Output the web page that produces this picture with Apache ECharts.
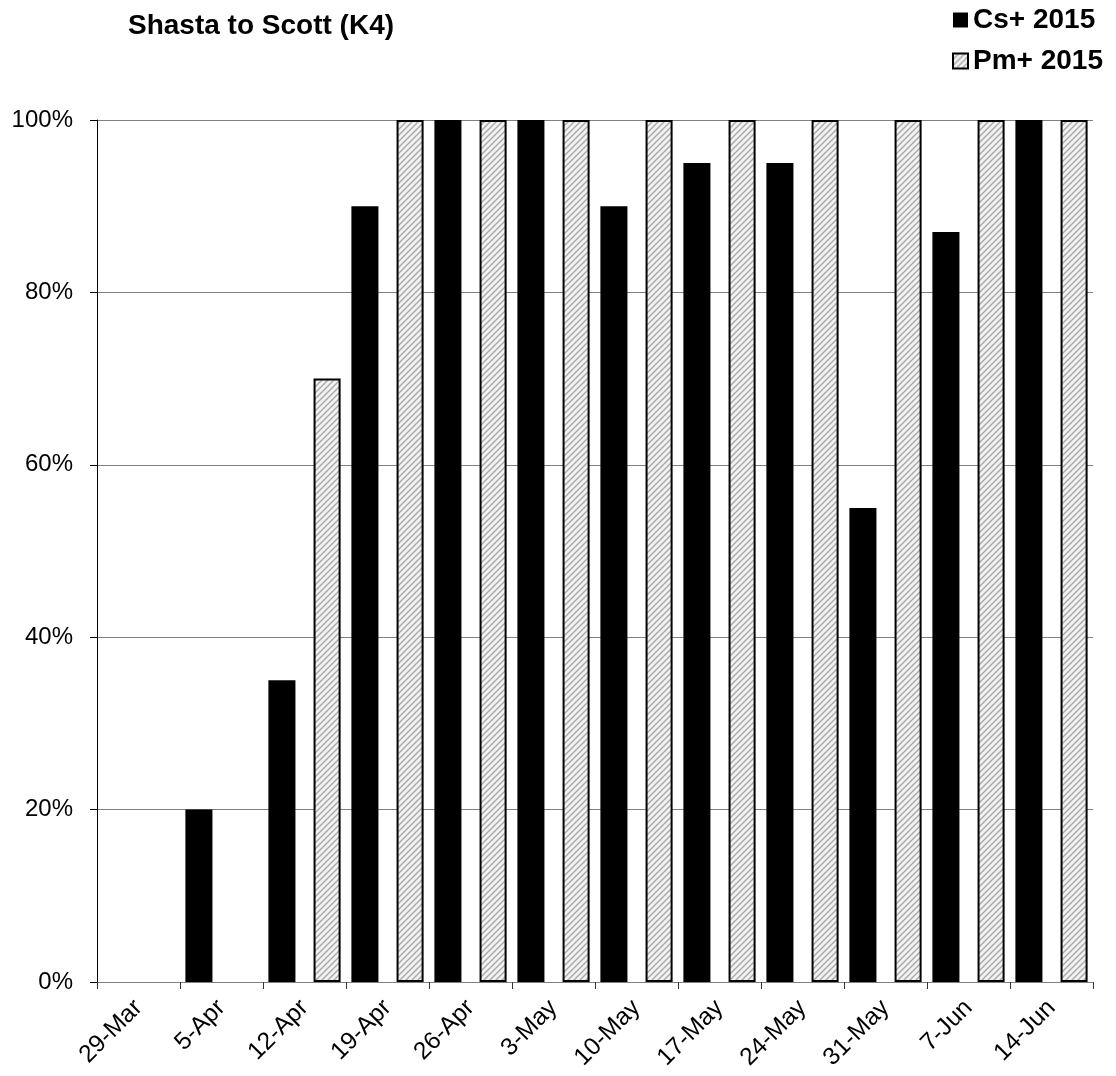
<!DOCTYPE html>
<html>
<head>
<meta charset="utf-8">
<script src="https://cdn.jsdelivr.net/npm/echarts@6/dist/echarts.min.js"></script>
<style>
html,body{margin:0;padding:0;background:#fff;}
#chart{width:1116px;height:1076px;}
</style>
</head>
<body>
<div id="chart"></div>
<script>
const categories = ['29-Mar','5-Apr','12-Apr','19-Apr','26-Apr','3-May','10-May','17-May','24-May','31-May','7-Jun','14-Jun'];
const csValues = [0, 20, 35, 90, 100, 100, 90, 95, 95, 55, 87, 100];
const pmValues = [0, 0, 70, 100, 100, 100, 100, 100, 100, 100, 100, 100];
const seriesNames = ['Cs+ 2015', 'Pm+ 2015'];
const titleText = 'Shasta to Scott (K4)';

const FONT = "'Liberation Sans', Arial, sans-serif";

function makeHatch() {
  const c = document.createElement('canvas');
  const s = 6;
  c.width = s; c.height = s;
  const ctx = c.getContext('2d');
  ctx.fillStyle = '#f2f2f2';
  ctx.fillRect(0, 0, s, s);
  ctx.strokeStyle = '#a8a8a8';
  ctx.lineWidth = 1.4;
  ctx.beginPath();
  ctx.moveTo(-1, s + 1); ctx.lineTo(s + 1, -1);
  ctx.moveTo(-1, 1); ctx.lineTo(1, -1);
  ctx.moveTo(s - 1, s + 1); ctx.lineTo(s + 1, s - 1);
  ctx.stroke();
  return c;
}
const hatch = { image: makeHatch(), repeat: 'repeat' };

const chart = echarts.init(document.getElementById('chart'), null, { renderer: 'canvas' });
chart.setOption({
  animation: false,
  backgroundColor: '#fff',
  title: {
    text: titleText,
    left: 123, top: 7,
    textStyle: { fontFamily: FONT, fontSize: 28, fontWeight: 'bold', color: '#000' }
  },
  legend: {
    orient: 'vertical',
    left: 947, top: 1,
    itemWidth: 15, itemHeight: 15, itemGap: 13,
    icon: 'rect',
    textStyle: { fontFamily: FONT, fontSize: 28, fontWeight: 'bold', color: '#000' },
    data: seriesNames
  },
  grid: { left: 97, right: 23, top: 120, bottom: 94, containLabel: false },
  xAxis: {
    type: 'category',
    data: categories,
    axisLine: { lineStyle: { color: '#808080', width: 1 } },
    axisTick: { show: true, length: 7, lineStyle: { color: '#333' } },
    axisLabel: { rotate: 45, margin: 22, fontFamily: FONT, fontSize: 24.5, color: '#000', interval: 0 }
  },
  yAxis: {
    type: 'value',
    min: 0, max: 100, interval: 20,
    axisLine: { show: true, lineStyle: { color: '#000', width: 1 } },
    axisTick: { show: true, length: 7, lineStyle: { color: '#000' } },
    axisLabel: { formatter: '{value}%', margin: 24, fontFamily: FONT, fontSize: 24, color: '#000' },
    splitLine: { show: true, lineStyle: { color: '#808080', width: 1 } }
  },
  series: [
    {
      name: seriesNames[0], type: 'bar',
      barGap: '67%', barCategoryGap: '13%',
      itemStyle: { color: '#000', borderColor: '#000', borderWidth: 0 },
      data: csValues
    },
    {
      name: seriesNames[1], type: 'bar',
      itemStyle: { color: hatch, borderColor: '#000', borderWidth: 2 },
      data: pmValues.map(v => v === 0 ? { value: v, itemStyle: { borderWidth: 0 } } : v)
    }
  ]
});
</script>
</body>
</html>
